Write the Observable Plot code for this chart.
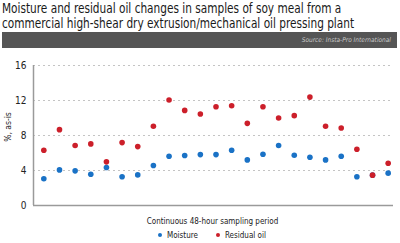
<!DOCTYPE html>
<html>
<head>
<meta charset="utf-8">
<script src="https://cdn.jsdelivr.net/npm/d3@7"></script>
<script src="https://cdn.jsdelivr.net/npm/@observablehq/plot@0.6"></script>
<style>
  html, body { margin: 0; padding: 0; background: #fff; width: 400px; height: 243px; overflow: hidden; }
  body { font-family: "DejaVu Sans Condensed", "Liberation Sans Narrow", "DejaVu Sans", sans-serif; font-stretch: condensed; position: relative; }
  #title { position: absolute; left: 2px; top: 1px; font-size: 13.5px; line-height: 15px; color: #1a1a1a; white-space: nowrap; transform: scaleX(0.868); transform-origin: 0 0; }
  #bar { position: absolute; left: 2px; top: 32px; width: 395px; height: 16px; background: #555; }
  #source { position: absolute; right: 6px; top: 4px; font-size: 6.5px; font-style: italic; color: #c8c8c8; }
  #chart { position: absolute; left: 0; top: 48px; }
  #ylabel { position: absolute; left: 8px; top: 127px; font-size: 8.5px; color: #222; white-space: nowrap; transform: translate(-50%, -50%) rotate(-90deg); }
  #xlabel { position: absolute; left: 0; width: 425px; top: 217px; text-align: center; font-size: 8px; color: #222; }
  #legend { position: absolute; left: 158px; top: 231px; font-size: 8px; color: #222; white-space: nowrap; }
  #legend span.dot { display: inline-block; width: 4px; height: 4px; border-radius: 50%; vertical-align: middle; margin-right: 5px; position: relative; top: -1px; }
</style>
</head>
<body>
<div id="title">Moisture and residual oil changes in samples of soy meal from a<br>commercial high-shear dry extrusion/mechanical oil pressing plant</div>
<div id="bar"><div id="source">Source: Insta-Pro International</div></div>
<div id="chart"></div>
<div id="ylabel">%, as-is</div>
<div id="xlabel">Continuous 48-hour sampling period</div>
<div id="legend"></div>
<script>
const samples = d3.range(1, 24);
const moisture = [3.05, 4.07, 3.96, 3.58, 4.34, 3.28, 3.5, 4.57, 5.63, 5.71, 5.82, 5.82, 6.32, 5.21, 5.86, 6.85, 5.75, 5.52, 5.21, 5.63, 3.28, 3.47, 3.7];
const residualOil = [6.32, 8.67, 6.85, 7.04, 4.99, 7.19, 6.73, 9.05, 12.05, 10.87, 10.46, 11.29, 11.4, 9.39, 11.29, 10.0, 10.27, 12.39, 9.05, 8.86, 6.43, 3.47, 4.83];
const yTicks = [0, 4, 8, 12, 16];
const seriesNames = ["Moisture", "Residual oil"];
const seriesColors = ["#1a72c6", "#cc1f2a"];

const rows = [];
samples.forEach((s, i) => {
  rows.push({sample: s, value: moisture[i], series: seriesNames[0]});
});
samples.forEach((s, i) => {
  rows.push({sample: s, value: residualOil[i], series: seriesNames[1]});
});

const chart = Plot.plot({
  width: 400,
  height: 165,
  marginLeft: 33,
  marginRight: 7,
  marginTop: 17,
  marginBottom: 8,
  style: {fontFamily: "'DejaVu Sans Condensed', 'DejaVu Sans', sans-serif", fontSize: "9px", color: "#222", background: "transparent"},
  x: {domain: [0.34, 23.34], axis: null},
  y: {domain: [0, 16], ticks: yTicks, label: null},
  color: {domain: seriesNames, range: seriesColors},
  marks: [
    Plot.ruleY(yTicks.filter(d => d > 0), {stroke: "#c4c4c4", strokeDasharray: "2,3", strokeWidth: 1}),
    Plot.axisY({ticks: yTicks, tickSize: 0, tickPadding: 7, label: null, fontSize: 10}),
    Plot.ruleX([0.34], {y1: 0, y2: 16, stroke: "#9a9a9a", strokeWidth: 1.5}),
    Plot.ruleY([0], {stroke: "#9a9a9a", strokeWidth: 1.5}),
    Plot.dot(rows, {x: "sample", y: "value", fill: "series", r: 2.8, stroke: "none"})
  ]
});
document.getElementById("chart").appendChild(chart);

const legend = document.getElementById("legend");
seriesNames.forEach((name, i) => {
  const item = document.createElement("span");
  item.style.marginRight = i === 0 ? "18px" : "0";
  item.innerHTML = `<span class="dot" style="background:${seriesColors[i]}"></span>${name}`;
  legend.appendChild(item);
});
</script>
</body>
</html>
